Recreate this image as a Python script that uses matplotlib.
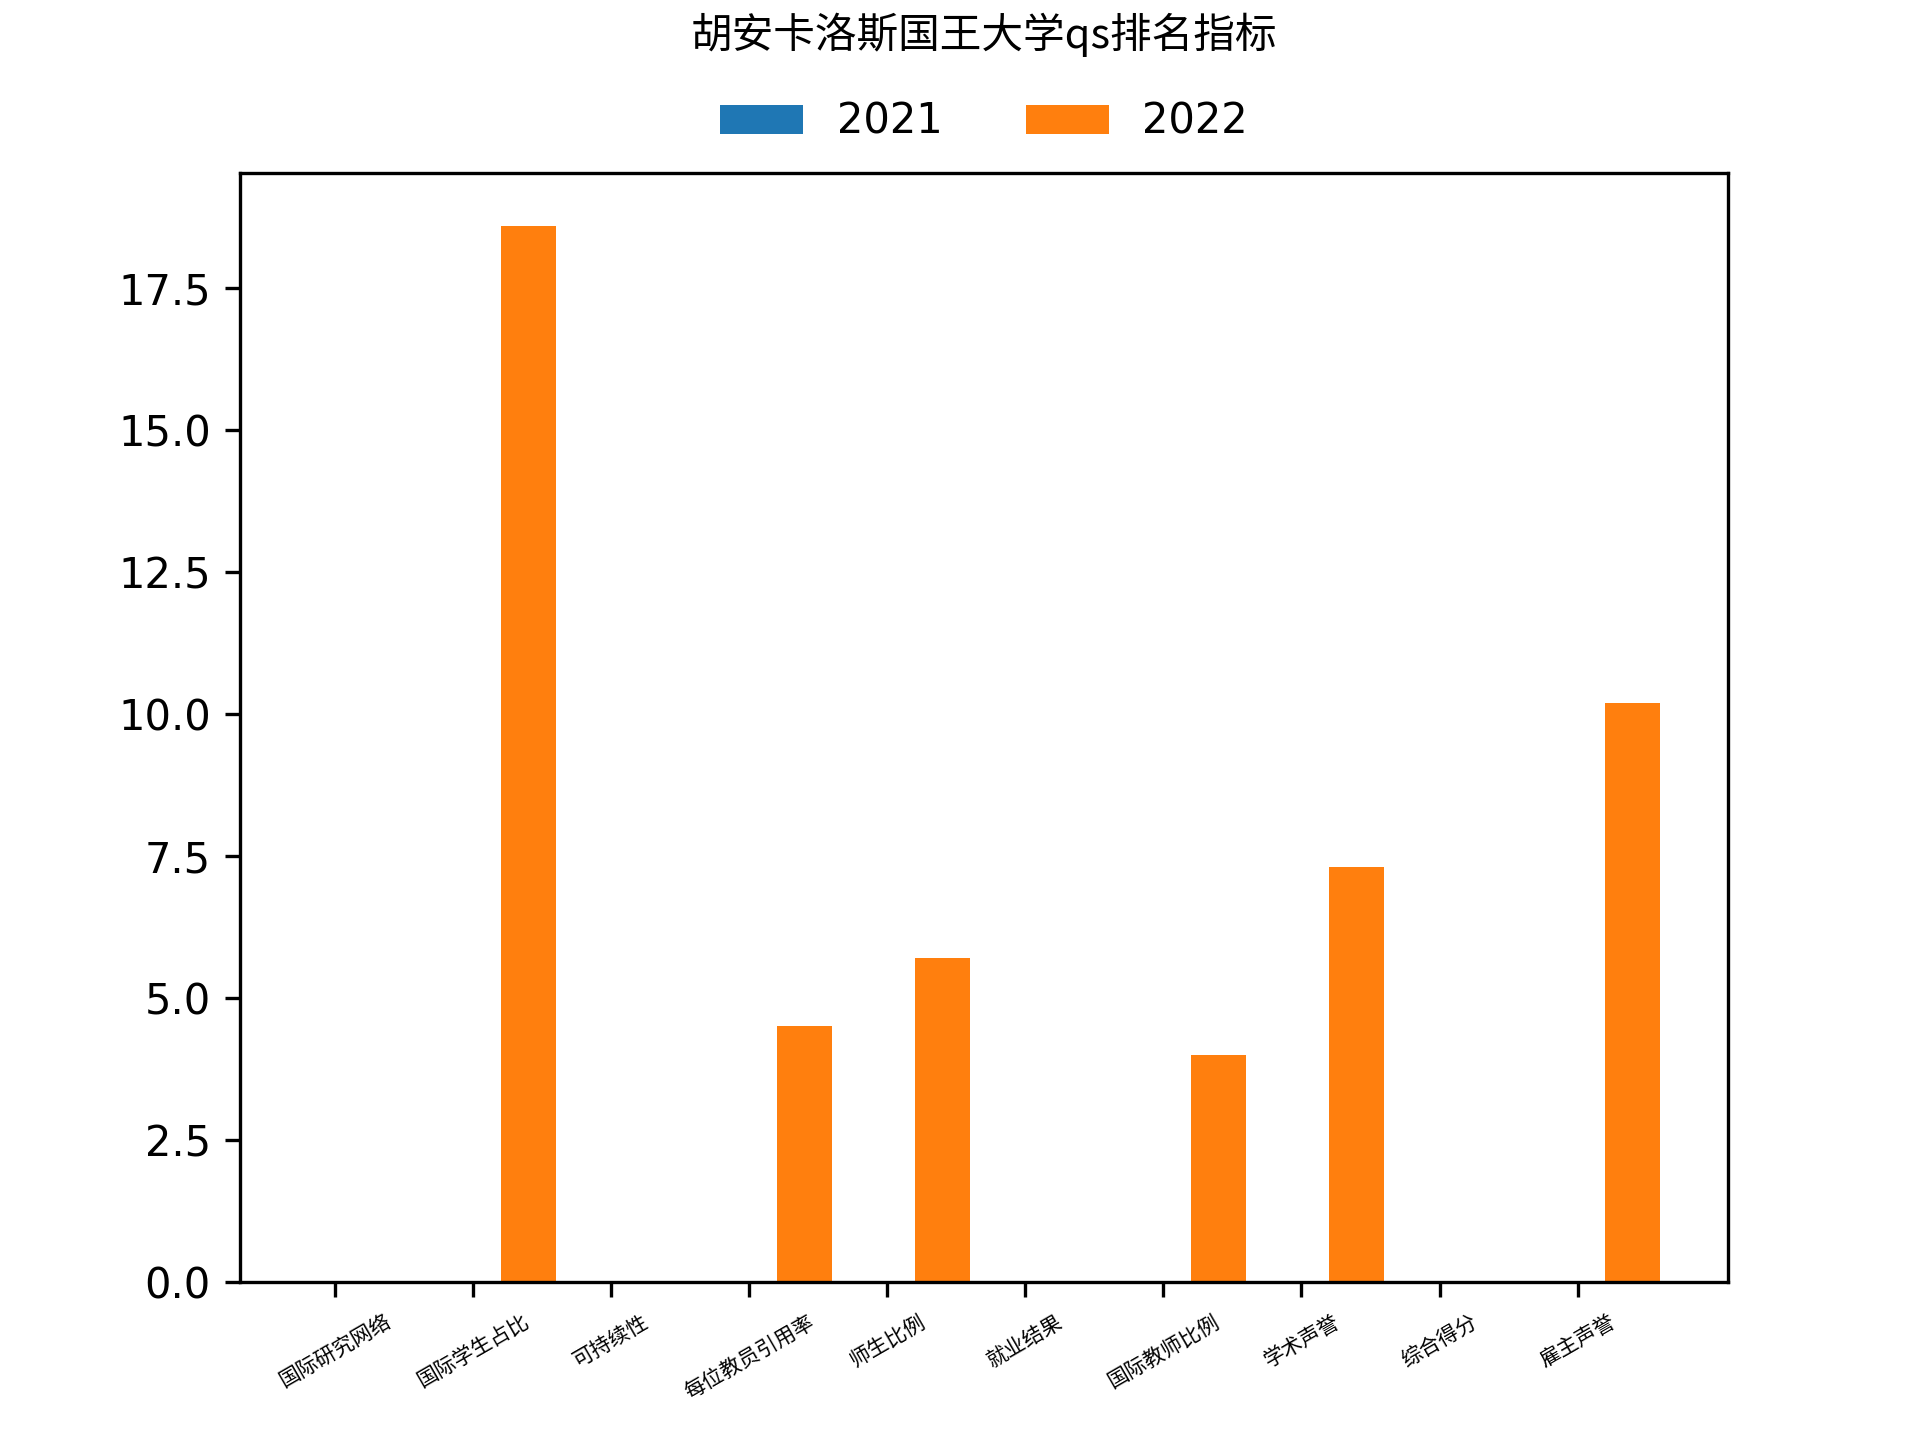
import numpy as np
import matplotlib
matplotlib.use('Agg')
import matplotlib.pyplot as plt

plt.rcParams['font.family'] = ['DejaVu Sans', 'Noto Sans CJK SC']

titulo = '胡安卡洛斯国王大学qs排名指标'
categorias = ['国际研究网络', '国际学生占比', '可持续性', '每位教员引用率', '师生比例',
              '就业结果', '国际教师比例', '学术声誉', '综合得分', '雇主声誉']
anos = ['2021', '2022']
valores_2021 = [0, 0, 0, 0, 0, 0, 0, 0, 0, 0]
valores_2022 = [0, 18.6, 0, 4.5, 5.7, 0, 4.0, 7.3, 0, 10.2]

x = np.arange(len(categorias))
largura = 0.4

fig, ax = plt.subplots(figsize=(6.4, 4.8), dpi=300)
ax.bar(x, valores_2021, largura, label=anos[0], color='#1f77b4')
ax.bar(x + largura, valores_2022, largura, label=anos[1], color='#ff7f0e')

ax.set_xticks(x)
ax.set_xticklabels(categorias, rotation=30, fontsize=5, fontfamily='Noto Sans CJK SC')
ax.set_title(titulo, fontsize=10, fontfamily='Noto Sans CJK SC', pad=30)
ax.legend(loc='center', bbox_to_anchor=(0.5, 1.046), ncol=2, frameon=False, fontsize=10)

plt.savefig('out.png', dpi=300)
